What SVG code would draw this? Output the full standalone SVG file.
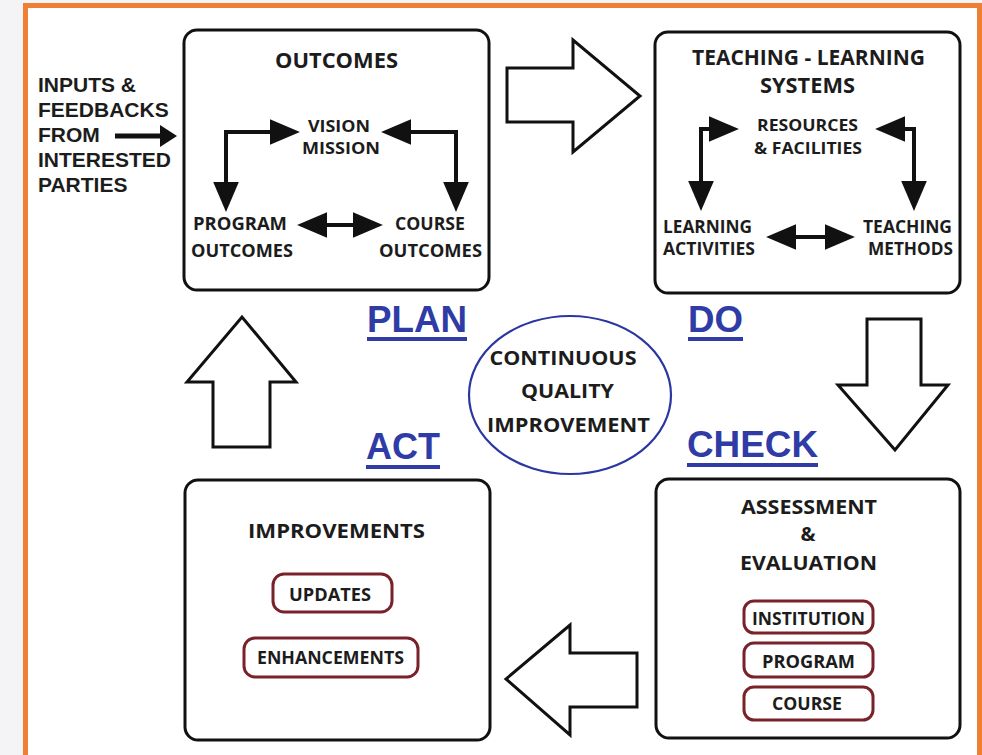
<svg xmlns="http://www.w3.org/2000/svg" width="982" height="755" viewBox="0 0 982 755">
<style>
.box{fill:#fff;stroke:#111;stroke-width:3}
.pill{fill:#fff;stroke:#7a222a;stroke-width:3}
.big{fill:#fff;stroke:#111;stroke-width:3;stroke-linejoin:miter}
.t{font-family:"Open Sans","DejaVu Sans",sans-serif;font-weight:bold;fill:#1c1c1c;text-anchor:middle}
.a{font-family:"Liberation Sans",Arial,sans-serif;font-weight:bold;fill:#1c1c1c}
.pdca{font-family:"Liberation Sans",Arial,sans-serif;font-weight:bold;font-size:37px;fill:#2f3ca6}
.ul{fill:#2f3ca6}
.ln{fill:none;stroke:#111;stroke-width:4}
</style>
<defs>
<marker id="hd" markerUnits="userSpaceOnUse" markerWidth="30" markerHeight="26" viewBox="0 0 28 24" refX="1" refY="12" orient="auto-start-reverse">
<path d="M0,0 L28,12 L0,24 Z" fill="#111"/>
</marker>
</defs>
<rect x="0" y="0" width="982" height="755" fill="#f4f4f6"/>
<rect x="25.5" y="5.5" width="954" height="753" fill="#fff" stroke="#ee7f33" stroke-width="5"/>

<g id="inputs">
<text class="a" font-size="21" x="38" y="92">INPUTS &amp;</text>
<text class="a" font-size="21" x="38" y="117">FEEDBACKS</text>
<text class="a" font-size="21" x="38" y="142">FROM</text>
<text class="a" font-size="21" x="38" y="167">INTERESTED</text>
<text class="a" font-size="21" x="38" y="192">PARTIES</text>
</g>

<g id="outcomes">
<rect class="box" x="184" y="30" width="305" height="260" rx="13"/>
<text class="t" font-size="21" x="336.5" y="68" textLength="123" lengthAdjust="spacingAndGlyphs">OUTCOMES</text>
<text class="t" font-size="16" x="339" y="131.5" textLength="62" lengthAdjust="spacingAndGlyphs">VISION</text>
<text class="t" font-size="16" x="341" y="153.5" textLength="78" lengthAdjust="spacingAndGlyphs">MISSION</text>
<text class="t" font-size="18.5" x="240" y="230" textLength="94" lengthAdjust="spacingAndGlyphs">PROGRAM</text>
<text class="t" font-size="18.5" x="242" y="257" textLength="102" lengthAdjust="spacingAndGlyphs">OUTCOMES</text>
<text class="t" font-size="18.5" x="430" y="230" textLength="70" lengthAdjust="spacingAndGlyphs">COURSE</text>
<text class="t" font-size="18.5" x="430.5" y="257" textLength="103" lengthAdjust="spacingAndGlyphs">OUTCOMES</text>
</g>

<g id="teaching">
<rect class="box" x="655" y="32" width="305" height="261" rx="13"/>
<text class="t" font-size="21" x="808.5" y="65" textLength="233" lengthAdjust="spacingAndGlyphs">TEACHING - LEARNING</text>
<text class="t" font-size="21" x="807.5" y="93" textLength="95" lengthAdjust="spacingAndGlyphs">SYSTEMS</text>
<text class="t" font-size="16.5" x="807.5" y="130.5" textLength="101" lengthAdjust="spacingAndGlyphs">RESOURCES</text>
<text class="t" font-size="16.5" x="808" y="153.5" textLength="108" lengthAdjust="spacingAndGlyphs">&amp; FACILITIES</text>
<text class="t" font-size="18" x="707.5" y="233" textLength="89" lengthAdjust="spacingAndGlyphs">LEARNING</text>
<text class="t" font-size="18" x="709" y="255" textLength="92" lengthAdjust="spacingAndGlyphs">ACTIVITIES</text>
<text class="t" font-size="18" x="907.5" y="233" textLength="89" lengthAdjust="spacingAndGlyphs">TEACHING</text>
<text class="t" font-size="18" x="910.5" y="255" textLength="85" lengthAdjust="spacingAndGlyphs">METHODS</text>
</g>

<g id="improvements">
<rect class="box" x="185" y="480" width="305" height="260" rx="13"/>
<text class="t" font-size="20" x="336.5" y="538" textLength="177" lengthAdjust="spacingAndGlyphs">IMPROVEMENTS</text>
<rect class="pill" x="273" y="574" width="119" height="38" rx="11"/>
<text class="t" font-size="18" x="330" y="601" textLength="82" lengthAdjust="spacingAndGlyphs">UPDATES</text>
<rect class="pill" x="244" y="638" width="174" height="39" rx="11"/>
<text class="t" font-size="18" x="330.5" y="664" textLength="147" lengthAdjust="spacingAndGlyphs">ENHANCEMENTS</text>
</g>

<g id="assessment">
<rect class="box" x="656" y="479" width="304" height="259" rx="13"/>
<text class="t" font-size="20" x="809" y="514" textLength="136" lengthAdjust="spacingAndGlyphs">ASSESSMENT</text>
<text class="t" font-size="20" x="808" y="541">&amp;</text>
<text class="t" font-size="20" x="808.5" y="570" textLength="137" lengthAdjust="spacingAndGlyphs">EVALUATION</text>
<rect class="pill" x="744" y="601" width="129" height="32" rx="10"/>
<text class="t" font-size="17" x="808.5" y="625" textLength="113" lengthAdjust="spacingAndGlyphs">INSTITUTION</text>
<rect class="pill" x="744" y="643" width="129" height="34" rx="10"/>
<text class="t" font-size="17" x="808.5" y="668" textLength="93" lengthAdjust="spacingAndGlyphs">PROGRAM</text>
<rect class="pill" x="744" y="687" width="129" height="33" rx="10"/>
<text class="t" font-size="17" x="807" y="710" textLength="70" lengthAdjust="spacingAndGlyphs">COURSE</text>
</g>

<g id="cqi">
<ellipse cx="570" cy="395" rx="101" ry="79" fill="none" stroke="#2a36a2" stroke-width="2.2"/>
<text class="t" font-size="20" x="563" y="365" textLength="147" lengthAdjust="spacingAndGlyphs">CONTINUOUS</text>
<text class="t" font-size="20" x="567.5" y="398" textLength="93" lengthAdjust="spacingAndGlyphs">QUALITY</text>
<text class="t" font-size="20" x="568.5" y="432" textLength="163" lengthAdjust="spacingAndGlyphs">IMPROVEMENT</text>
</g>

<g id="labels">
<text class="pdca" x="367" y="332" textLength="100" lengthAdjust="spacingAndGlyphs">PLAN</text>
<rect class="ul" x="367" y="337" width="100" height="4"/>
<text class="pdca" x="688" y="332" textLength="55" lengthAdjust="spacingAndGlyphs">DO</text>
<rect class="ul" x="688" y="337" width="55" height="4"/>
<text class="pdca" x="366" y="459" textLength="74" lengthAdjust="spacingAndGlyphs">ACT</text>
<rect class="ul" x="366" y="465" width="74" height="4"/>
<text class="pdca" x="687" y="457" textLength="131" lengthAdjust="spacingAndGlyphs">CHECK</text>
<rect class="ul" x="687" y="463" width="131" height="4"/>
</g>

<g id="connectors">
<polygon class="big" points="507,68 573,68 573,40 640,96 573,152 573,122 507,122"/>
<polygon class="big" points="867,319 921,319 921,385 948,385 895,450 838,385 867,385"/>
<polygon class="big" points="637,653 570,653 570,625 506,679 570,735 570,707 637,707"/>
<polygon class="big" points="213,447 213,382 187,382 242,317 296,382 270,382 270,447"/>
<line x1="115" y1="136" x2="163" y2="136" stroke="#111" stroke-width="5"/>
<polygon points="160,125 177,136 160,147" fill="#111"/>
<path class="ln" d="M226,183 V132 H271" marker-start="url(#hd)" marker-end="url(#hd)"/>
<path class="ln" d="M456,183 V132 H410" marker-start="url(#hd)" marker-end="url(#hd)"/>
<path class="ln" d="M326,225 H354" marker-start="url(#hd)" marker-end="url(#hd)"/>
<path class="ln" d="M701,182 V129 H710" marker-start="url(#hd)" marker-end="url(#hd)"/>
<path class="ln" d="M914,182 V129 H904" marker-start="url(#hd)" marker-end="url(#hd)"/>
<path class="ln" d="M795,237 H826" marker-start="url(#hd)" marker-end="url(#hd)"/>
</g>
</svg>
